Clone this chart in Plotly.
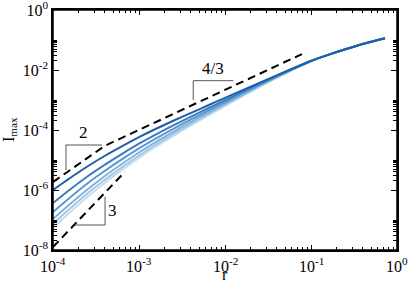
import math
import plotly.graph_objects as go

# ---- data ----
r_vals = [1.0e-4, 1.58e-4, 2.51e-4, 3.98e-4, 6.31e-4, 1.0e-3, 1.58e-3, 2.51e-3, 3.98e-3, 6.31e-3,
          1.0e-2, 1.58e-2, 2.51e-2, 3.98e-2, 6.31e-2, 1.0e-1, 1.58e-1, 2.51e-1, 3.98e-1, 7.25e-1]

I_curve1 = [1.00e-6, 2.51e-6, 6.07e-6, 1.36e-5, 2.84e-5, 5.75e-5, 1.10e-4, 2.03e-4, 3.66e-4, 6.56e-4,
            1.175e-3, 2.10e-3, 3.74e-3, 6.66e-3, 1.167e-2, 2.00e-2, 3.19e-2, 4.90e-2, 7.36e-2, 0.114]
I_curve2 = [3.69e-7, 1.04e-6, 2.82e-6, 6.92e-6, 1.58e-5, 3.49e-5, 7.19e-5, 1.42e-4, 2.74e-4, 5.21e-4,
            9.84e-4, 1.86e-3, 3.47e-3, 6.41e-3, 1.148e-2, 2.00e-2, 3.19e-2, 4.90e-2, 7.36e-2, 0.114]
I_curve3 = [1.85e-7, 5.62e-7, 1.65e-6, 4.30e-6, 1.05e-5, 2.44e-5, 5.28e-5, 1.10e-4, 2.20e-4, 4.37e-4,
            8.57e-4, 1.67e-3, 3.21e-3, 6.07e-3, 1.12e-2, 2.00e-2, 3.19e-2, 4.90e-2, 7.36e-2, 0.114]
I_curve4 = [1.08e-7, 3.41e-7, 1.04e-6, 2.88e-6, 7.36e-6, 1.78e-5, 4.05e-5, 8.71e-5, 1.82e-4, 3.74e-4,
            7.59e-4, 1.52e-3, 3.00e-3, 5.79e-3, 1.09e-2, 2.00e-2, 3.19e-2, 4.90e-2, 7.36e-2, 0.114]
I_curve5 = [7.36e-8, 2.42e-7, 7.64e-7, 2.15e-6, 5.66e-6, 1.41e-5, 3.29e-5, 7.30e-5, 1.57e-4, 3.31e-4,
            6.87e-4, 1.41e-3, 2.84e-3, 5.62e-3, 1.07e-2, 2.00e-2, 3.19e-2, 4.90e-2, 7.36e-2, 0.114]
I_curve6 = [5.41e-8, 1.82e-7, 5.85e-7, 1.71e-6, 4.60e-6, 1.18e-5, 2.82e-5, 6.41e-5, 1.40e-4, 3.00e-4,
            6.35e-4, 1.33e-3, 2.71e-3, 5.46e-3, 1.05e-2, 2.00e-2, 3.19e-2, 4.90e-2, 7.36e-2, 0.114]

curves = [I_curve6, I_curve5, I_curve4, I_curve3, I_curve2, I_curve1]
curve_colors = ['#c6ddf0', '#a3c8e7', '#7fb2dc', '#5a98cf', '#3a7cbd', '#1f5ea8']

# guide lines (power laws)
guide_upper_r = [1.0e-4, 4.03e-4, 7.85e-2]
guide_upper_I = [1.85e-6, 3.0e-5, 3.4e-2]
guide_lower_r = [1.0e-4, 6.87e-4]
guide_lower_I = [1.26e-8, 4.07e-6]

# slope brackets
bracket2_r = [1.415e-4, 1.415e-4, 3.72e-4]
bracket2_I = [4.64e-6, 3.16e-5, 3.16e-5]
bracket43_r = [4.27e-3, 4.27e-3, 1.25e-2]
bracket43_I = [1.0e-3, 4.40e-3, 4.40e-3]
bracket3_r = [1.80e-4, 4.03e-4, 4.03e-4]
bracket3_I = [6.81e-8, 6.81e-8, 5.98e-7]

slope_labels = ['2', '4/3', '3']
slope_label_r = [2.29e-4, 7.24e-3, 4.15e-4]
slope_label_I = [3.3e-5, 4.6e-3, 2.0e-7]

x_tickvals = [1e-4, 1e-3, 1e-2, 1e-1, 1]
x_ticktext = ['10<sup>-4</sup>', '10<sup>-3</sup>', '10<sup>-2</sup>', '10<sup>-1</sup>', '10<sup>0</sup>']
y_tickvals = [1e-8, 1e-6, 1e-4, 1e-2, 1]
y_ticktext = ['10<sup>-8</sup>', '10<sup>-6</sup>', '10<sup>-4</sup>', '10<sup>-2</sup>', '10<sup>0</sup>']

x_minor = [k * 10.0 ** e for e in (-4, -3, -2, -1) for k in range(2, 10)]
y_minor = [k * 10.0 ** e for e in (-8, -6, -4, -2) for k in range(2, 11)]

FONT = 'Liberation Serif'

fig = go.Figure()

for I_vals, col in zip(curves, curve_colors):
    fig.add_trace(go.Scatter(x=r_vals, y=I_vals, mode='lines',
                             line=dict(color=col, width=2, shape='spline', smoothing=0.6),
                             showlegend=False, hoverinfo='skip'))

for gr, gI in ((guide_upper_r, guide_upper_I), (guide_lower_r, guide_lower_I)):
    fig.add_trace(go.Scatter(x=gr, y=gI, mode='lines',
                             line=dict(color='black', width=2, dash='8px,5px'),
                             showlegend=False, hoverinfo='skip'))

for br, bI in ((bracket2_r, bracket2_I), (bracket43_r, bracket43_I), (bracket3_r, bracket3_I)):
    fig.add_trace(go.Scatter(x=br, y=bI, mode='lines',
                             line=dict(color='#555555', width=1),
                             showlegend=False, hoverinfo='skip'))

# annotations on log axes take log10 positions
anchors = [('center', 'bottom'), ('center', 'bottom'), ('left', 'middle')]
for txt, lr, lI, (xa, ya) in zip(slope_labels, slope_label_r, slope_label_I, anchors):
    fig.add_annotation(x=math.log10(lr), y=math.log10(lI), xref='x', yref='y', text=txt,
                       showarrow=False, xanchor=xa, yanchor=ya,
                       font=dict(family=FONT, size=17, color='black'))

# x tick labels placed as text just under the axis
for v, t in zip(x_tickvals, x_ticktext):
    fig.add_annotation(x=math.log10(v), y=0, xref='x', yref='paper', text=t, showarrow=False,
                       xanchor='center', yanchor='top', yshift=-3,
                       font=dict(family=FONT, size=16, color='black'))

axis_common = dict(type='log', showline=True, linecolor='black', linewidth=1.5, mirror='ticks',
                   ticks='inside', tickcolor='black', tickwidth=1, showgrid=False, zeroline=False,
                   automargin=False, tickfont=dict(family=FONT, size=16, color='black'))

fig.update_xaxes(range=[-4, 0], tickmode='array', tickvals=x_tickvals, showticklabels=False,
                 ticklen=5,
                 minor=dict(tickmode='array', tickvals=x_minor, ticks='inside', ticklen=3,
                            tickcolor='black', tickwidth=1, showgrid=False),
                 **axis_common)
fig.update_yaxes(range=[-8, 0], tickmode='array', tickvals=y_tickvals, ticktext=y_ticktext,
                 ticklen=6, ticklabeloverflow='allow',
                 minor=dict(tickmode='array', tickvals=y_minor, ticks='inside', ticklen=4,
                            tickcolor='black', tickwidth=1, showgrid=False),
                 **axis_common)

# frame around the plot area
fig.add_shape(type='rect', xref='paper', yref='paper', x0=0, y0=0, x1=1, y1=1,
              line=dict(color='black', width=1.5), fillcolor='rgba(0,0,0,0)', layer='above')

fig.add_annotation(x=0.5, y=0, xref='paper', yref='paper', yshift=-35, text='r', showarrow=False,
                   xanchor='center', yanchor='bottom', font=dict(family=FONT, size=16, color='black'))
fig.add_annotation(x=0, y=0.5, xref='paper', yref='paper', xshift=-44, text='I<sub>max</sub>',
                   showarrow=False, textangle=-90, xanchor='center', yanchor='middle',
                   font=dict(family=FONT, size=16, color='black'))

fig.update_layout(width=409, height=285, margin=dict(l=53, r=12, t=10, b=35, autoexpand=False),
                  plot_bgcolor='white', paper_bgcolor='white', font=dict(family=FONT))

fig.write_html('out.html', config={'displayModeBar': False},
               post_script="document.body.style.margin='0';document.body.style.overflow='hidden';")
